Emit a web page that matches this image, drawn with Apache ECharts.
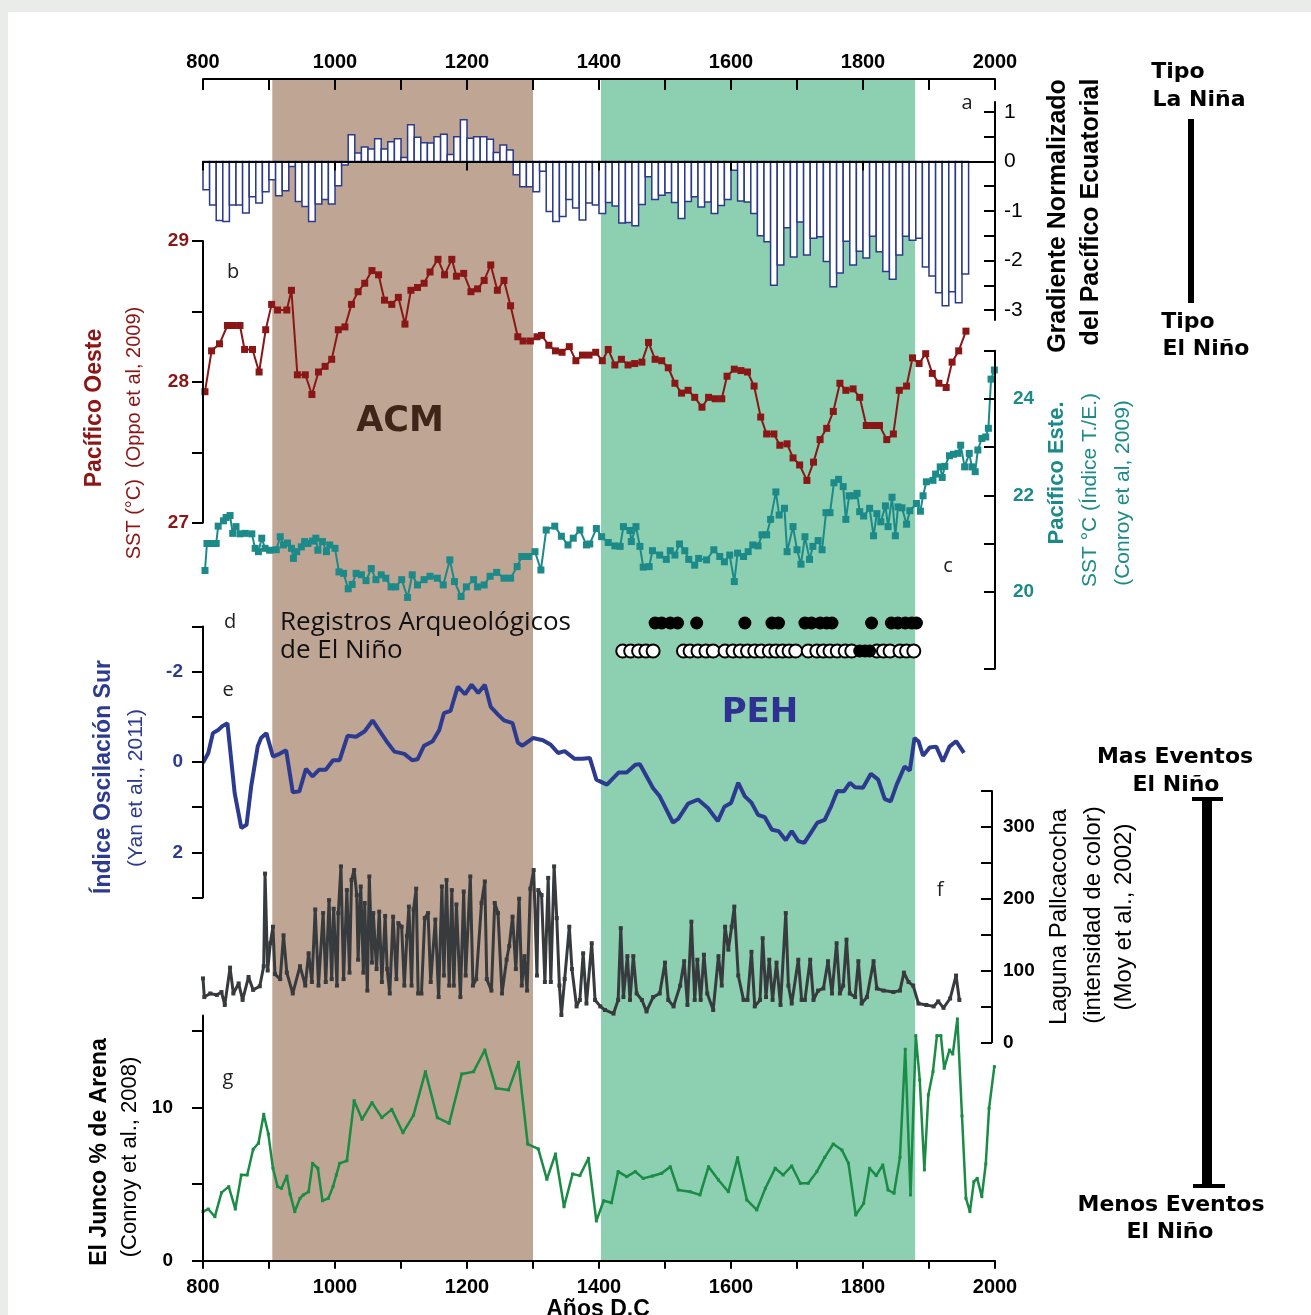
<!DOCTYPE html>
<html>
<head>
<meta charset="utf-8">
<script src="https://cdn.jsdelivr.net/npm/echarts@6/dist/echarts.min.js"></script>
<style>
html,body{margin:0;padding:0;background:#e9ece8;}
#bg{position:absolute;left:8px;top:12px;width:1303px;height:1303px;background:#fff;}
#chart{position:absolute;left:0;top:0;width:1311px;height:1315px;}
</style>
</head>
<body>
<div id="bg"></div>
<div id="chart"></div>
<script>
// ---------------- DATA ----------------
// climatic periods (ACM = Anomalía Climática Medieval, PEH = Pequeña Edad de Hielo)
const periods = [[905, 1300], [1403, 1879]];

// a) Gradiente normalizado del Pacífico Ecuatorial, decadal bins [start year, value]
const gradientBars = [
[800,-0.57],[810,-0.88],[820,-1.19],[830,-1.21],[840,-0.88],[850,-0.88],[860,-1.04],[870,-0.71],[880,-0.84],[890,-0.61],
[900,-0.37],[910,-0.69],[920,-0.59],[930,-0.10],[940,-0.81],[950,-0.91],[960,-1.21],[970,-0.86],[980,-0.77],[990,-0.86],
[1000,-0.49],[1010,-0.07],[1020,0.54],[1030,0.17],[1040,0.29],[1050,0.25],[1060,0.46],[1070,0.25],[1080,0.40],[1090,0.46],
[1100,0.08],[1110,0.74],[1120,0.49],[1130,0.38],[1140,0.37],[1150,0.50],[1160,0.55],[1170,0.14],[1180,0.50],[1190,0.84],
[1200,0.47],[1210,0.50],[1220,0.50],[1230,0.45],[1240,0.18],[1250,0.33],[1260,0.23],[1270,-0.27],[1280,-0.51],[1290,-0.51],
[1300,-0.61],[1310,-0.20],[1320,-1.01],[1330,-1.21],[1340,-1.11],[1350,-0.77],[1360,-0.94],[1370,-1.18],[1380,-0.84],[1390,-0.88],
[1400,-1.05],[1410,-0.83],[1420,-0.90],[1430,-1.24],[1440,-1.23],[1450,-1.30],[1460,-0.87],[1470,-0.31],[1480,-0.77],[1490,-0.68],
[1500,-0.63],[1510,-0.83],[1520,-1.15],[1530,-0.81],[1540,-0.71],[1550,-0.92],[1560,-0.82],[1570,-1.05],[1580,-0.89],[1590,-0.77],
[1600,-0.18],[1610,-0.80],[1620,-0.82],[1630,-1.05],[1640,-1.50],[1650,-1.62],[1660,-2.50],[1670,-2.09],[1680,-1.34],[1690,-1.93],
[1700,-1.22],[1710,-1.89],[1720,-1.55],[1730,-1.52],[1740,-2.02],[1750,-2.53],[1760,-2.25],[1770,-1.61],[1780,-2.09],[1790,-1.81],
[1800,-1.95],[1810,-1.51],[1820,-1.82],[1830,-2.22],[1840,-2.38],[1850,-1.89],[1860,-1.51],[1870,-1.59],[1880,-1.55],[1890,-2.13],
[1900,-2.31],[1910,-2.65],[1920,-2.91],[1930,-2.63],[1940,-2.85],[1950,-2.27]
];
const BIN_YEARS = 10;

// b) SST Pacífico Oeste (Oppo et al., 2009)
const westSST = [
[803,27.93],[813,28.22],[825,28.27],[837,28.40],[846,28.40],[856,28.40],[863,28.23],[875,28.23],[885,28.07],[895,28.37],
[904,28.55],[913,28.51],[927,28.51],[934,28.65],[943,28.05],[955,28.05],[965,27.91],[975,28.07],[985,28.11],[995,28.16],
[1005,28.37],[1015,28.39],[1025,28.55],[1035,28.64],[1045,28.70],[1056,28.79],[1066,28.76],[1075,28.58],[1086,28.55],[1096,28.60],
[1106,28.41],[1115,28.65],[1125,28.67],[1135,28.70],[1144,28.78],[1156,28.87],[1166,28.76],[1177,28.87],[1184,28.75],[1195,28.77],
[1206,28.64],[1216,28.66],[1226,28.72],[1236,28.83],[1246,28.65],[1256,28.72],[1266,28.54],[1277,28.32],[1285,28.29],[1296,28.29],
[1306,28.32],[1313,28.33],[1324,28.26],[1334,28.22],[1344,28.21],[1355,28.25],[1365,28.15],[1375,28.19],[1385,28.19],[1395,28.21],
[1405,28.15],[1414,28.23],[1424,28.12],[1434,28.16],[1444,28.12],[1454,28.13],[1465,28.14],[1475,28.28],[1485,28.16],[1495,28.15],
[1505,28.10],[1515,27.99],[1525,27.92],[1535,27.94],[1545,27.89],[1556,27.82],[1566,27.89],[1576,27.88],[1586,27.88],[1594,28.04],
[1605,28.09],[1615,28.08],[1625,28.07],[1635,27.97],[1645,27.75],[1654,27.63],[1665,27.63],[1674,27.55],[1685,27.56],[1694,27.46],
[1704,27.41],[1715,27.30],[1725,27.43],[1735,27.59],[1745,27.67],[1755,27.79],[1765,27.99],[1774,27.94],[1785,27.95],[1795,27.89],
[1805,27.69],[1815,27.69],[1825,27.69],[1836,27.59],[1846,27.63],[1855,27.94],[1866,27.97],[1875,28.17],[1885,28.13],[1895,28.20],
[1905,28.06],[1915,27.99],[1926,27.96],[1935,28.14],[1945,28.22],[1956,28.36]
];

// c) SST Pacífico Este, índice T/E (Conroy et al., 2009)
const eastSST = [
[803,20.44],[806,21.00],[813,21.00],[820,21.00],[823,21.36],[831,21.47],[835,21.54],[841,21.58],[845,21.21],[850,21.35],
[856,21.20],[864,21.21],[874,21.20],[879,20.90],[884,20.83],[889,21.11],[894,20.90],[901,20.86],[911,20.87],[917,21.14],
[922,20.97],[928,21.01],[934,20.90],[937,20.69],[942,20.83],[949,20.93],[954,21.04],[959,21.00],[966,21.05],[971,21.11],
[974,20.86],[981,21.04],[987,20.83],[992,20.97],[1000,20.90],[1006,20.41],[1013,20.38],[1020,20.06],[1026,20.15],[1032,20.38],
[1040,20.35],[1047,20.23],[1055,20.48],[1062,20.25],[1070,20.35],[1077,20.28],[1085,20.10],[1092,20.10],[1101,20.25],[1110,19.88],
[1117,20.35],[1125,20.14],[1135,20.25],[1144,20.32],[1155,20.28],[1164,20.14],[1174,20.66],[1181,20.21],[1191,19.90],[1199,20.10],
[1210,20.25],[1216,20.10],[1226,20.14],[1235,20.32],[1245,20.40],[1256,20.28],[1266,20.28],[1276,20.52],[1283,20.73],[1293,20.73],
[1303,20.83],[1312,20.45],[1320,21.28],[1333,21.36],[1343,21.15],[1353,20.97],[1361,21.11],[1371,21.28],[1381,20.97],[1386,20.99],
[1396,21.31],[1404,21.14],[1414,21.02],[1424,20.95],[1432,20.94],[1437,21.35],[1447,21.27],[1449,21.04],[1456,21.35],[1462,20.94],
[1467,20.51],[1476,20.52],[1481,20.85],[1492,20.76],[1502,20.67],[1508,20.85],[1515,20.76],[1522,20.99],[1530,20.85],[1536,20.67],
[1545,20.55],[1551,20.69],[1563,20.66],[1574,20.87],[1583,20.73],[1590,20.62],[1598,20.76],[1605,20.21],[1610,20.80],[1619,20.73],
[1626,20.83],[1633,20.97],[1641,20.95],[1647,21.18],[1654,21.18],[1660,21.50],[1668,22.07],[1673,21.59],[1681,21.73],[1685,20.83],
[1694,21.35],[1700,20.87],[1706,20.57],[1712,21.14],[1719,20.67],[1724,20.94],[1732,21.06],[1738,20.87],[1744,21.64],[1750,21.64],
[1756,22.26],[1763,22.33],[1770,22.18],[1774,21.50],[1779,21.99],[1786,21.99],[1791,22.04],[1795,21.66],[1801,21.57],[1810,21.73],
[1816,21.16],[1821,21.62],[1827,21.45],[1834,21.78],[1838,21.35],[1844,21.96],[1849,21.16],[1853,21.76],[1859,21.74],[1866,21.40],
[1871,21.68],[1881,21.83],[1887,21.67],[1891,21.99],[1896,22.28],[1906,22.31],[1910,22.44],[1917,22.59],[1920,22.37],[1924,22.60],
[1931,22.82],[1937,22.85],[1944,22.87],[1948,23.04],[1954,22.59],[1961,22.87],[1965,22.59],[1970,22.49],[1974,22.94],[1980,23.18],
[1986,23.21],[1990,23.39],[1994,24.41],[1999,24.60]
];

// d) Registros arqueológicos de El Niño (años)
const archFilledTop = [1485,1495,1508,1519,1548,1621,1662,1672,1712,1722,1735,1745,1753,1813,1843,1853,1864,1874,1881];
const archOpen = [1436,1448,1460,1471,1482,1528,1538,1550,1562,1573,1591,1603,1614,1625,1636,1646,1658,1668,1678,1688,1698,
                  1717,1730,1740,1750,1761,1773,1783,1821,1831,1841,1856,1866,1877];
const archFilledBottom = [1795,1803,1810];
const archRows = ['Abiertos', 'Llenos'];

// e) Índice de Oscilación Sur (Yan et al., 2011)
const soiIndex = [
[800,0.02],[808,-0.20],[815,-0.64],[823,-0.71],[830,-0.80],[837,-0.86],[848,0.69],[858,1.46],[866,1.39],[873,0.54],
[883,-0.35],[888,-0.53],[896,-0.64],[906,-0.12],[916,-0.18],[926,-0.26],[936,0.67],[946,0.65],[956,0.15],[966,0.32],
[976,0.17],[986,0.17],[997,-0.04],[1007,-0.04],[1019,-0.58],[1032,-0.56],[1045,-0.68],[1057,-0.92],[1067,-0.70],[1080,-0.42],
[1090,-0.23],[1105,-0.18],[1117,-0.04],[1125,-0.06],[1135,-0.36],[1148,-0.46],[1158,-0.71],[1165,-1.08],[1175,-1.13],[1186,-1.67],
[1197,-1.50],[1207,-1.71],[1217,-1.53],[1227,-1.71],[1236,-1.22],[1247,-1.05],[1256,-0.92],[1269,-0.86],[1277,-0.43],[1284,-0.36],
[1300,-0.53],[1315,-0.48],[1327,-0.38],[1338,-0.20],[1348,-0.24],[1363,-0.07],[1375,-0.07],[1386,-0.09],[1396,0.39],[1412,0.50],
[1430,0.23],[1442,0.23],[1455,0.06],[1462,0.05],[1482,0.58],[1492,0.76],[1512,1.34],[1520,1.26],[1535,0.92],[1550,0.83],
[1565,1.02],[1580,1.31],[1590,0.99],[1600,0.91],[1611,0.46],[1621,0.76],[1631,0.90],[1641,1.17],[1651,1.22],[1662,1.50],
[1672,1.53],[1683,1.73],[1692,1.53],[1702,1.75],[1711,1.79],[1721,1.57],[1731,1.34],[1742,1.28],[1752,0.97],[1761,0.64],
[1771,0.65],[1780,0.46],[1788,0.56],[1800,0.57],[1812,0.26],[1823,0.39],[1833,0.82],[1842,0.87],[1851,0.50],[1863,0.10],
[1871,0.19],[1878,-0.53],[1884,-0.46],[1891,-0.14],[1901,-0.32],[1911,-0.34],[1921,-0.01],[1931,-0.34],[1941,-0.46],[1953,-0.20]
];

// f) Laguna Pallcacocha, intensidad de color (Moy et al., 2002)
const pallcacocha = [
[800,89],[802,63],[811,68],[821,66],[828,70],[833,52],[841,104],[846,68],[854,82],[860,59],[869,91],[876,73],[886,78],[892,106],
[894,235],[898,100],[902,138],[906,161],[909,95],[917,88],[922,149],[927,97],[936,68],[947,106],[955,79],[960,124],[965,84],
[970,185],[975,79],[982,180],[986,84],[991,198],[995,88],[998,186],[1003,79],[1005,180],[1009,245],[1013,88],[1018,212],[1022,97],
[1025,226],[1029,240],[1033,205],[1035,115],[1039,217],[1043,97],[1045,194],[1049,72],[1052,231],[1056,111],[1058,180],[1063,102],
[1067,182],[1071,84],[1076,176],[1079,102],[1083,68],[1088,175],[1093,88],[1096,166],[1101,161],[1105,79],[1109,148],[1112,189],
[1116,79],[1119,185],[1123,214],[1126,68],[1131,68],[1136,173],[1141,180],[1145,84],[1152,171],[1157,63],[1162,217],[1165,93],
[1169,226],[1173,79],[1177,212],[1180,79],[1184,192],[1190,63],[1195,210],[1198,93],[1205,231],[1209,79],[1214,88],[1222,194],
[1227,224],[1230,88],[1237,72],[1242,194],[1247,180],[1253,68],[1260,115],[1264,134],[1269,175],[1274,102],[1279,200],[1283,79],
[1287,120],[1291,72],[1296,214],[1301,240],[1306,93],[1308,212],[1313,205],[1318,84],[1323,229],[1327,84],[1332,245],[1336,173],
[1340,79],[1343,38],[1348,88],[1355,161],[1359,102],[1366,50],[1371,59],[1376,124],[1381,54],[1389,138],[1394,59],[1402,50],
[1409,45],[1422,40],[1429,59],[1433,159],[1437,63],[1443,120],[1447,59],[1452,120],[1457,68],[1465,59],[1472,43],[1482,63],
[1492,68],[1500,111],[1505,59],[1513,50],[1523,79],[1529,113],[1534,52],[1540,168],[1545,59],[1549,115],[1554,59],[1559,122],
[1564,68],[1573,45],[1581,120],[1586,79],[1591,161],[1596,129],[1601,161],[1605,189],[1611,93],[1619,59],[1625,59],[1631,126],
[1636,50],[1644,59],[1648,145],[1653,63],[1658,115],[1663,59],[1669,111],[1675,52],[1683,180],[1687,79],[1692,54],[1702,115],
[1707,59],[1712,59],[1720,115],[1725,59],[1732,72],[1740,75],[1747,113],[1753,68],[1760,138],[1765,68],[1770,79],[1775,143],
[1780,68],[1788,63],[1793,113],[1798,54],[1806,63],[1816,113],[1821,75],[1831,72],[1846,70],[1856,72],[1862,97],[1869,84],
[1876,79],[1884,54],[1896,52],[1907,50],[1914,57],[1922,48],[1932,61],[1941,93],[1946,59]
];

// g) El Junco, % de arena (Conroy et al., 2008)
const elJuncoSand = [
[800,3.20],[808,3.37],[818,2.87],[828,4.44],[839,4.83],[849,3.37],[858,5.59],[867,5.59],[876,7.27],[884,7.66],
[892,9.55],[899,8.26],[906,6.03],[913,4.83],[919,4.72],[927,5.52],[932,4.35],[939,3.20],[947,4.07],[952,4.29],
[960,4.50],[966,6.35],[974,6.03],[981,3.91],[990,4.07],[997,4.83],[1002,5.59],[1007,6.35],[1018,6.52],[1029,10.44],
[1041,9.22],[1056,10.31],[1071,9.33],[1086,9.87],[1103,8.35],[1119,9.50],[1137,12.33],[1155,9.33],[1173,8.96],[1192,12.18],
[1210,12.33],[1227,13.74],[1244,11.25],[1263,11.14],[1278,12.94],[1292,7.61],[1308,7.29],[1321,5.31],[1334,6.96],[1347,3.52],
[1360,5.66],[1371,5.55],[1384,6.68],[1396,2.59],[1407,3.91],[1419,3.78],[1429,5.81],[1442,5.48],[1455,5.81],[1467,5.37],
[1481,5.52],[1495,5.70],[1508,6.13],[1520,4.61],[1538,4.50],[1553,4.29],[1566,6.13],[1581,5.26],[1596,4.50],[1610,6.72],
[1624,3.96],[1639,3.31],[1652,4.72],[1667,6.03],[1679,5.59],[1692,6.18],[1705,5.05],[1717,5.05],[1730,5.81],[1742,6.74],
[1755,7.61],[1768,7.22],[1778,6.35],[1789,2.98],[1801,3.74],[1810,6.03],[1820,5.55],[1830,6.24],[1838,4.61],[1847,4.40],
[1856,6.74],[1864,13.79],[1872,4.29],[1880,14.68],[1886,11.79],[1893,5.92],[1899,10.81],[1906,12.33],[1912,14.68],[1918,14.68],
[1923,12.55],[1931,13.74],[1936,13.48],[1943,15.77],[1950,9.44],[1956,4.07],[1962,3.20],[1968,5.15],[1973,5.37],[1980,4.18],
[1986,6.31],[1991,9.94],[1999,12.66]
];

// tick / label values
const gradTicks = [-3,-2.5,-2,-1.5,-1,-0.5,0,0.5,1];
const gradLabels = [-3,-2,-1,0,1];
const westTicks = [27,27.5,28,28.5,29];
const westLabels = [27,28,29];
const eastTicks = [18.4,20,21,22,23,24,25];
const eastLabels = [20,22,24];
const soiTicks = [-3,-2,-1,0,1,2,3];
const soiLabels = [-2,0,2];
const moyTicks = [0,50,100,150,200,250,300,350];
const moyLabels = [0,100,200,300];
const juncoTicks = [0,5,10,15];
const juncoLabels = [0,10];

// ---------------- CHART ----------------
const chart = echarts.init(document.getElementById('chart'), null, {renderer: 'canvas'});
const L = 203, W = 792;
const RED = '#8a1616', TEAL = '#1b8a89', BLUE = '#2c3b8f', DARK = '#383b3e', GREEN = '#1a8c45';
const NARROW = '"Liberation Sans Narrow", "Liberation Sans", Arial, sans-serif';
const SANS = '"Liberation Sans", Arial, sans-serif';

const grids = [
  {top: 78, height: 1},        // 0 top year axis
  {top: 102, height: 218},     // 1 a
  {top: 241, height: 281.7},   // 2 b
  {top: 350.7, height: 318.1}, // 3 c
  {top: 609, height: 56},      // 4 d
  {top: 626.5, height: 271},   // 5 e
  {top: 791, height: 251.3},   // 6 f
  {top: 1015.4, height: 245.3},// 7 g
  {top: 78, height: 1183}      // 8 shading
].map(g => Object.assign({left: L, width: W, containLabel: false}, g));

const axisLineStyle = {show: true, lineStyle: {color: '#000', width: 2}};
const hiddenX = i => ({gridIndex: i, type: 'value', min: 800, max: 2000, show: false});
const yearFmt = v => (v % 200 === 0 ? String(v) : '');

const xAxes = [
  {gridIndex: 0, type: 'value', position: 'top', min: 800, max: 2000, interval: 100, z: 5,
   axisLine: axisLineStyle, axisTick: {inside: true, length: 11, lineStyle: {width: 2, color: '#000'}},
   axisLabel: {formatter: yearFmt, fontFamily: SANS, fontWeight: 'bold', fontSize: 20, color: '#000', margin: 6},
   splitLine: {show: false}},
  {gridIndex: 1, type: 'value', position: 'bottom', min: 800, max: 2000, interval: 200, z: 5,
   axisLine: {show: true, onZero: true, lineStyle: {color: '#000', width: 2}},
   axisTick: {length: 9, lineStyle: {width: 2, color: '#000'}},
   axisLabel: {show: false}, splitLine: {show: false}},
  hiddenX(2), hiddenX(3), hiddenX(4), hiddenX(5), hiddenX(6),
  {gridIndex: 7, type: 'value', position: 'bottom', min: 800, max: 2000, interval: 100, z: 5,
   axisLine: axisLineStyle, axisTick: {length: 8, lineStyle: {width: 2, color: '#000'}},
   axisLabel: {formatter: yearFmt, fontFamily: SANS, fontWeight: 'bold', fontSize: 20, color: '#000', margin: 17},
   splitLine: {show: false}},
  hiddenX(8)
];

function yAx(i, pos, min, max, ticks, labels, color, inside, margin, extra) {
  return Object.assign({
    gridIndex: i, type: 'value', position: pos, min: min, max: max, z: 5,
    axisLine: axisLineStyle,
    axisTick: {show: true, customValues: ticks, inside: inside, length: 11, lineStyle: {width: 2, color: '#000'}},
    axisLabel: {show: true, customValues: labels, color: color, fontFamily: SANS, fontWeight: 'bold', fontSize: 19, margin: margin},
    splitLine: {show: false}
  }, extra || {});
}

const yAxes = [
  {gridIndex: 0, type: 'value', show: false, min: 0, max: 1},
  yAx(1, 'right', -3.2, 1.2, gradTicks, gradLabels, '#000', true, 9),
  yAx(2, 'left', 27, 29, westTicks, westLabels, RED, false, 14),
  yAx(3, 'right', 18.4, 25, eastTicks, eastLabels, TEAL, true, 18),
  {gridIndex: 4, type: 'category', data: archRows, show: false},
  yAx(5, 'left', -3, 3, soiTicks, soiLabels, BLUE, false, 20, {inverse: true}),
  yAx(6, 'right', 0, 350, moyTicks, moyLabels, '#000', true, 11, {offset: -3}),
  yAx(7, 'left', 0, 16, juncoTicks, juncoLabels, '#000', false, 30),
  {gridIndex: 8, type: 'value', show: false, min: 0, max: 1}
];
yAxes[1].axisLabel.fontWeight = 'normal';
yAxes[1].axisLabel.fontSize = 21;

function txt(x, y, text, font, fill, rot, align) {
  return {type: 'text', x: x, y: y, rotation: rot || 0, z: 20,
    style: {text: text, font: font, fill: fill, align: align || 'center', verticalAlign: 'middle',
            textAlign: align || 'center', textVerticalAlign: 'middle'}};
}
const R90 = Math.PI / 2;
const BOLDR = '"DejaVu Sans", Verdana, sans-serif';

const graphics = [
  // panel letters
  txt(967, 103, 'a', '20px "Open Sans"', '#222'),
  txt(233, 272, 'b', '20px "Open Sans"', '#222'),
  txt(948, 566, 'c', '20px "Open Sans"', '#222'),
  txt(230, 622, 'd', '20px "Open Sans"', '#222'),
  txt(228, 690, 'e', '20px "Open Sans"', '#222'),
  txt(940, 890, 'f', '20px "Open Sans"', '#222'),
  txt(228, 1078, 'g', '20px "Open Sans"', '#222'),
  // period labels
  txt(400, 422, 'ACM', 'bold 35px ' + BOLDR, '#3d2617'),
  txt(760, 713, 'PEH', 'bold 34px ' + BOLDR, '#2e3192'),
  // archaeological text
  txt(280, 623, 'Registros Arqueológicos', '26px "Open Sans"', '#111', 0, 'left'),
  txt(280, 651, 'de El Niño', '26px "Open Sans"', '#111', 0, 'left'),
  // left axis titles
  txt(95, 408, 'Pacífico Oeste', 'bold 23px ' + NARROW, RED, R90),
  txt(134, 433, 'SST (°C)  (Oppo et al, 2009)', '20px ' + NARROW, RED, R90),
  txt(104, 777, 'Índice Oscilación Sur', 'bold 23px ' + NARROW, BLUE, R90),
  txt(136, 788, '(Yan et al., 2011)', '21px ' + NARROW, BLUE, R90),
  txt(100, 1152, 'El Junco % de Arena', 'bold 23px ' + NARROW, '#000', R90),
  txt(130, 1157, '(Conroy et al., 2008)', '22px ' + NARROW, '#000', R90),
  // right axis titles
  txt(1058, 216, 'Gradiente Normalizado', 'bold 25px ' + NARROW, '#000', R90),
  txt(1091, 212, 'del Pacífico Ecuatorial', 'bold 25px ' + NARROW, '#000', R90),
  txt(1057, 473, 'Pacífico Este.', 'bold 22px ' + NARROW, TEAL, R90),
  txt(1090, 490, 'SST °C (Índice T./E.)', '21px ' + NARROW, TEAL, R90),
  txt(1123, 493, '(Conroy et al, 2009)', '21px ' + NARROW, TEAL, R90),
  txt(1059, 917, 'Laguna Pallcacocha', '24px ' + NARROW, '#000', R90),
  txt(1093, 915, '(intensidad de color)', '24px ' + NARROW, '#000', R90),
  txt(1124, 917, '(Moy et al., 2002)', '24px ' + NARROW, '#000', R90),
  // right side annotations
  txt(1178, 72, 'Tipo', 'bold 22px ' + BOLDR, '#000'),
  txt(1199, 100, 'La Niña', 'bold 22px ' + BOLDR, '#000'),
  {type: 'line', z: 20, shape: {x1: 1191, y1: 119, x2: 1191, y2: 303}, style: {stroke: '#000', lineWidth: 6}},
  txt(1188, 322, 'Tipo', 'bold 22px ' + BOLDR, '#000'),
  txt(1206, 349, 'El Niño', 'bold 22px ' + BOLDR, '#000'),
  txt(1175, 757, 'Mas Eventos', 'bold 22px ' + BOLDR, '#000'),
  txt(1176, 785, 'El Niño', 'bold 22px ' + BOLDR, '#000'),
  {type: 'line', z: 20, shape: {x1: 1207, y1: 799, x2: 1207, y2: 1186}, style: {stroke: '#000', lineWidth: 10}},
  {type: 'line', z: 20, shape: {x1: 1192, y1: 799, x2: 1223, y2: 799}, style: {stroke: '#000', lineWidth: 4}},
  {type: 'line', z: 20, shape: {x1: 1193, y1: 1186, x2: 1225, y2: 1186}, style: {stroke: '#000', lineWidth: 4}},
  txt(1171, 1205, 'Menos Eventos', 'bold 22px ' + BOLDR, '#000'),
  txt(1170, 1232, 'El Niño', 'bold 22px ' + BOLDR, '#000'),
  // x axis title
  txt(598, 1310, 'Años D.C', 'bold 23px ' + SANS, '#000')
];

const option = {
  animation: false,
  backgroundColor: 'transparent',
  grid: grids,
  xAxis: xAxes,
  yAxis: yAxes,
  graphic: {elements: graphics},
  series: [
    {type: 'line', xAxisIndex: 8, yAxisIndex: 8, z: 0, data: [[800, 0]], showSymbol: false,
     lineStyle: {width: 0, opacity: 0}, silent: true,
     markArea: {silent: true, data: [
       [{xAxis: periods[0][0], itemStyle: {color: '#bfa594', opacity: 1}}, {xAxis: periods[0][1]}],
       [{xAxis: periods[1][0], itemStyle: {color: '#8ccfb1', opacity: 1}}, {xAxis: periods[1][1]}]
     ]}},
    {type: 'custom', xAxisIndex: 1, yAxisIndex: 1, z: 3, data: gradientBars,
     renderItem: function (params, api) {
       const x0 = api.value(0), v = api.value(1);
       const p0 = api.coord([x0, 0]);
       const p1 = api.coord([x0 + BIN_YEARS, v]);
       return {type: 'rect',
         shape: {x: p0[0], y: Math.min(p0[1], p1[1]), width: p1[0] - p0[0], height: Math.abs(p1[1] - p0[1])},
         style: {fill: '#ffffff', stroke: '#2b3a8a', lineWidth: 1.5}};
     }},
    {type: 'line', xAxisIndex: 2, yAxisIndex: 2, z: 4, data: westSST, symbol: 'rect', symbolSize: 7,
     lineStyle: {color: RED, width: 2}, itemStyle: {color: RED}},
    {type: 'line', xAxisIndex: 3, yAxisIndex: 3, z: 3, data: eastSST, symbol: 'rect', symbolSize: 7,
     lineStyle: {color: TEAL, width: 2}, itemStyle: {color: TEAL}},
    {type: 'scatter', xAxisIndex: 4, yAxisIndex: 4, z: 3, symbolSize: 13,
     data: archOpen.map(y => [y, 'Abiertos']),
     itemStyle: {color: '#fff', borderColor: '#000', borderWidth: 2, opacity: 1}},
    {type: 'scatter', xAxisIndex: 4, yAxisIndex: 4, z: 4, symbolSize: 13,
     data: archFilledTop.map(y => [y, 'Llenos']).concat(archFilledBottom.map(y => [y, 'Abiertos'])),
     itemStyle: {color: '#000', opacity: 1}},
    {type: 'line', xAxisIndex: 5, yAxisIndex: 5, z: 3, data: soiIndex, showSymbol: false, smooth: false,
     lineStyle: {color: BLUE, width: 4}},
    {type: 'line', xAxisIndex: 6, yAxisIndex: 6, z: 3, data: pallcacocha, symbol: 'rect', symbolSize: 4,
     lineStyle: {color: DARK, width: 3}, itemStyle: {color: DARK}},
    {type: 'line', xAxisIndex: 7, yAxisIndex: 7, z: 3, data: elJuncoSand, symbol: 'rect', symbolSize: 3,
     lineStyle: {color: GREEN, width: 2.5}, itemStyle: {color: GREEN}}
  ]
};
chart.setOption(option);
</script>
</body>
</html>
